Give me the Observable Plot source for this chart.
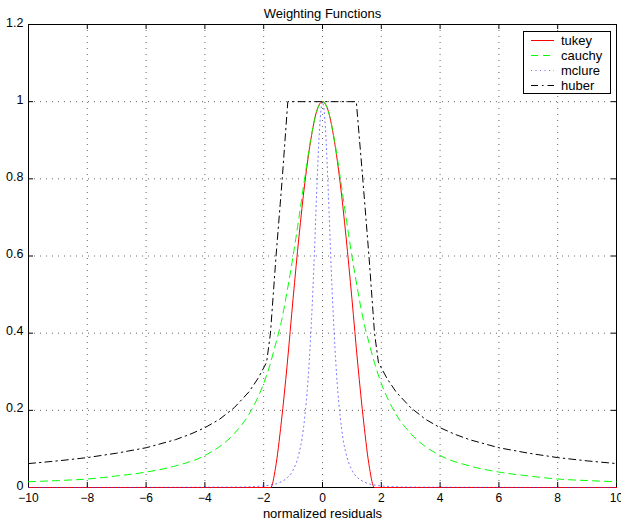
<!DOCTYPE html>
<html><head><meta charset="utf-8">
<script src="https://cdn.jsdelivr.net/npm/d3@7"></script>
<script src="https://cdn.jsdelivr.net/npm/@observablehq/plot@0.6"></script>
<style>
body{margin:0;background:#fff;}
#wrap{position:relative;width:621px;height:524px;}
#legend{position:absolute;left:523px;top:31px;width:86px;height:61px;border:1px solid #000;background:#fff;}
</style></head><body><div id="wrap"><div id="legend"></div></div>
<script>
const titleText = "Weighting Functions";
const xLabelText = "normalized residuals";
const xTicks = [-10,-8,-6,-4,-2,0,2,4,6,8,10];
const yTicks = [0,0.2,0.4,0.6,0.8,1,1.2];
const yTickLabels = ["0","0.2","0.4","0.6","0.8","1","1.2"];
const seriesNames = ["tukey","cauchy","mclure","huber"];
const seriesColors = ["#ff0000","#00ff00","#3333ff","#000000"];
const seriesDash = ["none","7,5","1,3.5","7,4,1.5,4"];

const tukeyX = [-10,-1.76,-1.6,-1.4,-1.2,-1.0,-0.8,-0.6,-0.4,-0.2,0,0.2,0.4,0.6,0.8,1.0,1.2,1.4,1.6,1.76,10];
const tukeyY = [0,0,0.05,0.17,0.32,0.49,0.65,0.79,0.90,0.975,1,0.975,0.90,0.79,0.65,0.49,0.32,0.17,0.05,0,0];

const cauchyX = [-10,-9,-8,-7,-6,-5,-4,-3,-2.5,-2,-1.8,-1.6,-1.4,-1.2,-1.0,-0.8,-0.6,-0.4,-0.2,0,0.2,0.4,0.6,0.8,1.0,1.2,1.4,1.6,1.8,2,2.5,3,4,5,6,7,8,9,10];
const cauchyY = [0.015,0.018,0.022,0.030,0.040,0.056,0.083,0.14,0.19,0.27,0.315,0.37,0.43,0.51,0.60,0.70,0.805,0.903,0.974,1,0.974,0.903,0.805,0.70,0.60,0.51,0.43,0.37,0.315,0.27,0.19,0.14,0.083,0.056,0.040,0.030,0.022,0.018,0.015];

const mclureX = [-10,-3,-2,-1.8,-1.6,-1.4,-1.2,-1.0,-0.8,-0.7,-0.6,-0.5,-0.4,-0.3,-0.2,-0.1,0,0.1,0.2,0.3,0.4,0.5,0.6,0.7,0.8,1.0,1.2,1.4,1.6,1.8,2,3,10];
const mclureY = [0,0.001,0.004,0.006,0.009,0.015,0.025,0.045,0.088,0.125,0.185,0.27,0.395,0.56,0.76,0.93,1,0.93,0.76,0.56,0.395,0.27,0.185,0.125,0.088,0.045,0.025,0.015,0.009,0.006,0.004,0.001,0];

const huberX = [-10,-9,-8,-7,-6,-5,-4.5,-4,-3.5,-3,-2.5,-2.2,-2.0,-1.9,-1.77,-1.58,-1.37,-1.18,1.15,1.37,1.58,1.77,1.9,2.0,2.2,2.5,3,3.5,4,4.5,5,6,7,8,9,10];
const huberY = [0.062,0.069,0.0775,0.089,0.103,0.124,0.138,0.155,0.177,0.207,0.248,0.282,0.31,0.325,0.4,0.6,0.8,1,1,0.8,0.6,0.4,0.325,0.31,0.282,0.248,0.207,0.177,0.155,0.138,0.124,0.103,0.089,0.0775,0.069,0.062];

const rows = (xs, ys) => xs.map((x, i) => ({x, y: ys[i]}));

const W = 621, H = 524, mL = 28, mR = 5, mT = 24, mB = 37;
const pw = W - mL - mR, ph = H - mT - mB;
const gridStyle = {stroke: "#000", strokeOpacity: 0.6, strokeDasharray: "1,5"};

const chart = Plot.plot({
  width: W, height: H,
  marginLeft: mL, marginRight: mR, marginTop: mT, marginBottom: mB,
  style: {fontFamily: "'Liberation Sans', Arial, Helvetica, sans-serif", fontSize: "13px", color: "#000", background: "#fff", overflow: "visible"},
  x: {domain: [-10, 10], label: null},
  y: {domain: [0, 1.2], label: null},
  marks: [
    Plot.gridX(xTicks.slice(1, -1), gridStyle),
    Plot.gridY(yTicks.slice(1, -1), gridStyle),
    Plot.frame({stroke: "#000"}),
    Plot.tickX(xTicks, {x: d => d, stroke: "#000", insetTop: ph - 5}),
    Plot.tickX(xTicks, {x: d => d, stroke: "#000", insetBottom: ph - 5}),
    Plot.tickY(yTicks, {y: d => d, stroke: "#000", insetRight: pw - 5}),
    Plot.tickY(yTicks, {y: d => d, stroke: "#000", insetLeft: pw - 5}),
    Plot.axisX(xTicks, {tickSize: 0, tickPadding: 6, fontSize: 12}),
    Plot.axisY(yTicks, {tickSize: 0, tickPadding: 5, fontSize: 12.5, dy: -2, tickFormat: d => yTickLabels[yTicks.indexOf(d)]}),
    Plot.line(rows(tukeyX, tukeyY), {x: "x", y: "y", stroke: seriesColors[0], strokeWidth: 1, curve: "monotone-x"}),
    Plot.line(rows(cauchyX, cauchyY), {x: "x", y: "y", stroke: seriesColors[1], strokeWidth: 1, strokeDasharray: seriesDash[1], curve: "monotone-x"}),
    Plot.line(rows(mclureX, mclureY), {x: "x", y: "y", stroke: seriesColors[2], strokeOpacity: 0.75, strokeWidth: 1, strokeDasharray: seriesDash[2], curve: "monotone-x"}),
    Plot.line(rows(huberX, huberY), {x: "x", y: "y", stroke: seriesColors[3], strokeWidth: 1, strokeDasharray: seriesDash[3], curve: "linear"}),
    Plot.text([titleText], {frameAnchor: "top", dy: -16, fontSize: 13}),
    Plot.text([xLabelText], {frameAnchor: "bottom", dy: 30, fontSize: 13})
  ]
});
document.getElementById("wrap").prepend(chart);

// legend
const lg = d3.select("#legend").append("svg").attr("width", 86).attr("height", 61)
  .style("font-family", "'Liberation Sans', Arial, Helvetica, sans-serif").style("font-size", "13px");
seriesNames.forEach((name, i) => {
  const y = 8.5 + i * 15;
  lg.append("line").attr("x1", 7).attr("x2", 30).attr("y1", y).attr("y2", y)
    .attr("stroke", seriesColors[i]).attr("stroke-width", 1)
    .attr("stroke-opacity", i === 2 ? 0.75 : 1)
    .attr("stroke-dasharray", seriesDash[i] === "none" ? null : seriesDash[i]);
  lg.append("text").attr("x", 37).attr("y", y).attr("dy", "0.35em").text(name);
});
</script>
</body></html>
